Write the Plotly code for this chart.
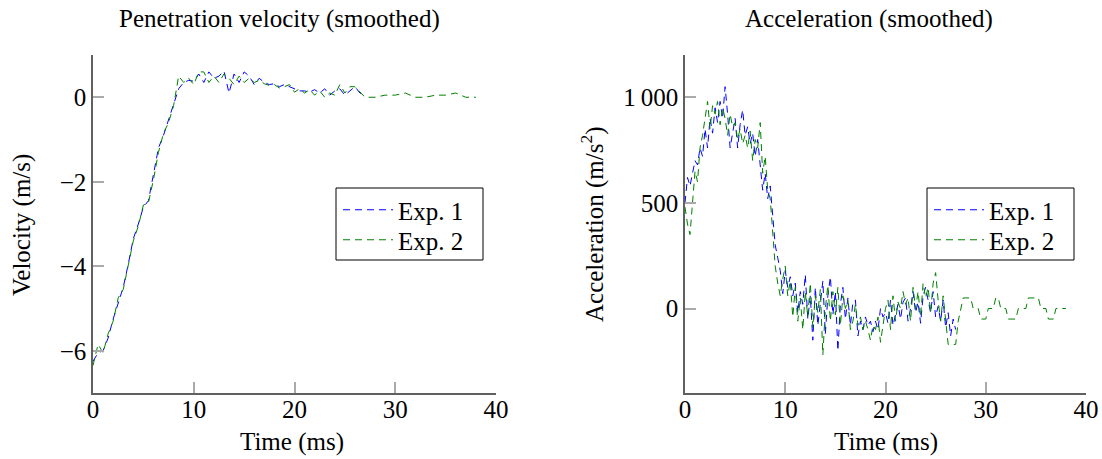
import numpy as np
import plotly.graph_objects as go

# ---------------- data ----------------
# Velocity (m/s), sampled every 0.5 ms
vel_t1 = np.arange(0, 27.01, 0.5)
vel_exp1 = [-6.25, -6.05, -6.0, -5.7, -5.25, -4.85, -4.5, -3.95, -3.35, -3.0,
            -2.6, -2.45, -1.85, -1.2, -0.9, -0.55, -0.15, 0.2, 0.35, 0.4,
            0.38, 0.55, 0.35, 0.6, 0.45, 0.5, 0.62, 0.1, 0.55, 0.35,
            0.6, 0.5, 0.3, 0.45, 0.35, 0.3, 0.32, 0.25, 0.3, 0.25,
            0.2, 0.15, 0.15, 0.12, 0.18, 0.1, 0.2, 0.05, 0.15, 0.2,
            0.05, 0.15, 0.25, 0.1, 0.05]
vel_t2 = np.concatenate([np.arange(0, 26.01, 0.5), np.arange(27, 38.01, 1.0)])
vel_exp2 = [-6.35, -5.85, -6.05, -5.6, -5.3, -4.75, -4.55, -4.0, -3.4, -3.05,
            -2.55, -2.5, -1.95, -1.3, -0.85, -0.6, -0.2, 0.5, 0.35, 0.45,
            0.3, 0.6, 0.6, 0.35, 0.5, 0.35, 0.55, 0.45, 0.3, 0.5,
            0.35, 0.45, 0.35, 0.4, 0.32, 0.28, 0.3, 0.22, 0.25, 0.3,
            0.12, 0.2, 0.1, 0.18, 0.05, 0.15, 0.0, 0.1, 0.05, 0.3,
            0.1, 0.25, 0.25,
            0.0, 0.0, 0.05, 0.05, 0.1, 0.0, 0.0, 0.05, 0.05, 0.1, 0.0, 0.0]

# Acceleration (m/s^2), sampled every 0.25 ms
acc_t1 = np.arange(0, 27.001, 0.25)
acc_exp1 = [500, 620, 580, 650, 700, 680, 760, 720, 850, 760, 900, 830,
            950, 880, 980, 900, 1050, 920, 760, 830, 900, 760, 870, 940,
            820, 860, 780, 830, 720, 800, 680, 560, 640, 520, 580, 420,
            300, 240, 180, 70, 180, 100, 150, 60, 120, -20, 80, 20,
            160, -50, 60, -150, 100, -80, 40, 130, -120, 60, 150, -30,
            80, -200, 20, 100, -50, 50, -80, 30, 40, -130, -60, -100,
            -40, -80, -60, -110, -60, -100, 0, -40, -20, -70, 40, -80,
            -30, 20, -50, 30, 50, -60, 0, 80, -20, 30, -70, 60,
            100, 40, -20, 80, -40, 10, -60, 40, -90, -20, -130, -50,
            -100]
acc_t2 = np.arange(0, 38.001, 0.25)
acc_exp2 = [480, 400, 350, 520, 650, 600, 760, 820, 900, 980, 850, 960,
            920, 980, 870, 950, 900, 820, 920, 860, 880, 800, 850, 780,
            820, 760, 840, 700, 800, 760, 880, 640, 720, 560, 520, 380,
            200, 120, 60, 140, 200, 60, 130, -40, 100, -60, 50, -100,
            80, -40, 120, -90, 60, -20, 90, -220, 0, 110, -60, 80,
            -30, 100, -80, 60, 0, 40, -100, -60, 20, -80, -40, -100,
            -60, -100, -150, -80, -100, -40, -160, -80, 0, 40, -100, 60,
            -60, 30, 0, 80, 20, 50, -60, 100, 0, 80, -40, 120,
            50, 100, -20, 120, 170, 40, -60, 60, -40, -170, -170, -170,
            -170, -60, 0, 50, 50, 50, 50, 0, 0, 0, -50, -50,
            -50, 0, 0, 0, 50, 50, 0, 0, 0, -50, -50, -50,
            -50, 0, 0, 0, 0, 50, 50, 50, 50, 50, 0, 0,
            0, -50, -50, -50, 0, 0, 0, 0, 0]

vel_ticks = [0, -2, -4, -6]
vel_ticktext = ["0", "\u22122", "\u22124", "\u22126"]
acc_ticks = [0, 500, 1000]
acc_ticktext = ["0", "500", "1\u2009000"]
time_ticks = [0, 10, 20, 30, 40]

# ---------------- styling ----------------
FONT = "Liberation Serif"
FS = 25
BLUE = "#0000ff"
GREEN = "#008000"
DASH = "7px,5px"
W, H = 1102, 459


def px(x):
    return x / W


def py(y):
    return 1 - y / H


fig = go.Figure()

fig.add_trace(go.Scatter(x=vel_t1, y=vel_exp1, mode="lines", name="Exp. 1",
                         line=dict(color=BLUE, width=1, dash=DASH),
                         xaxis="x", yaxis="y", legend="legend"))
fig.add_trace(go.Scatter(x=vel_t2, y=vel_exp2, mode="lines", name="Exp. 2",
                         line=dict(color=GREEN, width=1, dash=DASH),
                         xaxis="x", yaxis="y", legend="legend2"))
fig.add_trace(go.Scatter(x=acc_t1, y=acc_exp1, mode="lines", name="Exp. 1",
                         line=dict(color=BLUE, width=1, dash=DASH),
                         xaxis="x2", yaxis="y2", legend="legend3"))
fig.add_trace(go.Scatter(x=acc_t2, y=acc_exp2, mode="lines", name="Exp. 2",
                         line=dict(color=GREEN, width=1, dash=DASH),
                         xaxis="x2", yaxis="y2", legend="legend4"))

axis_common = dict(showgrid=False, zeroline=False, showline=True,
                   linecolor="#606060", linewidth=1.5, ticks="inside",
                   ticklen=11, tickcolor="#aaaaaa", tickwidth=1.5,
                   automargin=False,
                   tickfont=dict(family=FONT, size=FS, color="black"))

legend_common = dict(xanchor="left", yanchor="middle",
                     bgcolor="rgba(0,0,0,0)", borderwidth=0,
                     font=dict(family=FONT, size=FS), tracegroupgap=0,
                     itemwidth=50)

fig.update_layout(
    width=W, height=H,
    margin=dict(l=0, r=0, t=0, b=0),
    paper_bgcolor="white", plot_bgcolor="white",
    font=dict(family=FONT, size=FS, color="black"),
    xaxis=dict(domain=[px(93), px(496)], range=[0, 40], tickvals=time_ticks,
               anchor="y", ticklabelstandoff=-7, **axis_common),
    yaxis=dict(domain=[py(393), py(55)], range=[-7, 1], tickvals=vel_ticks,
               ticktext=vel_ticktext, anchor="x", **axis_common),
    xaxis2=dict(domain=[px(685), px(1086)], range=[0, 40], tickvals=time_ticks,
                anchor="y2", ticklabelstandoff=-7, **axis_common),
    yaxis2=dict(domain=[py(393), py(55)], range=[-400, 1200], tickvals=acc_ticks,
                ticktext=acc_ticktext, anchor="x2", **axis_common),
    legend=dict(x=px(338), y=py(210), **legend_common),
    legend2=dict(x=px(338), y=py(240), **legend_common),
    legend3=dict(x=px(929), y=py(210), **legend_common),
    legend4=dict(x=px(929), y=py(240), **legend_common),
    showlegend=True,
)

# legend frames
for (x0, x1) in [(336, 483), (927, 1074)]:
    fig.add_shape(type="rect", xref="paper", yref="paper",
                  x0=px(x0), x1=px(x1), y0=py(260), y1=py(188),
                  line=dict(color="black", width=1), fillcolor="white",
                  layer="above")

annots = [
    dict(text="Penetration velocity (smoothed)", x=px(279), y=py(19)),
    dict(text="Acceleration (smoothed)", x=px(869), y=py(19)),
    dict(text="Time (ms)", x=px(292), y=py(442)),
    dict(text="Time (ms)", x=px(886), y=py(442)),
    dict(text="Velocity (m/s)", x=px(22), y=py(225), textangle=-90),
    dict(text="Acceleration (m/s<sup>2</sup>)", x=px(592), y=py(225), textangle=-90),
]
for a in annots:
    fig.add_annotation(xref="paper", yref="paper", showarrow=False,
                       xanchor="center", yanchor="middle",
                       font=dict(family=FONT, size=FS, color="black"), **a)

fig.write_html("out.html", config={"displayModeBar": False},
               post_script="document.body.style.margin='0px';document.body.style.padding='0px';")
